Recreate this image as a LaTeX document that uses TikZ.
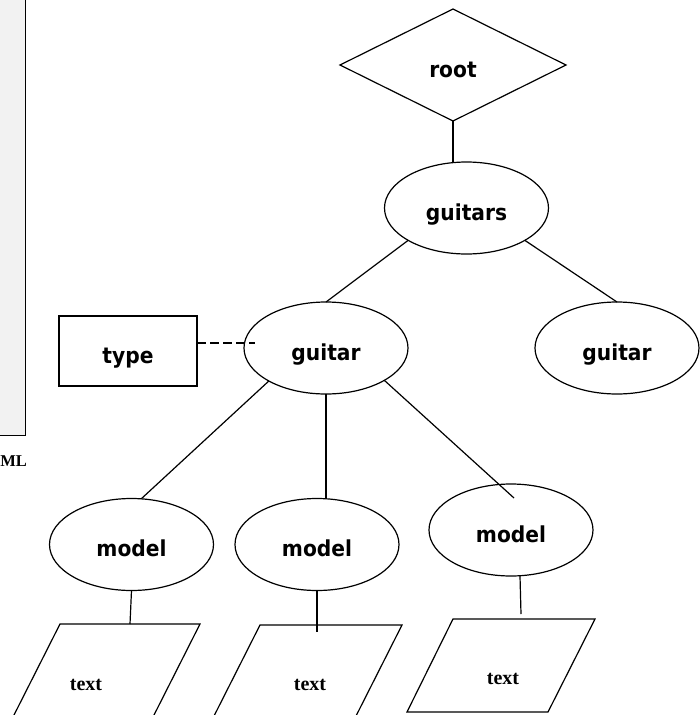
\documentclass[tikz,border=0pt]{standalone}
\usepackage{fontspec}
\usetikzlibrary{shapes.geometric,calc}
\newfontfamily\lblfont{DejaVu Sans}[FakeStretch=0.92]
\newfontfamily\txtfont{Liberation Serif}
\definecolor{panelgray}{HTML}{F2F2F2}

\begin{document}
\begin{tikzpicture}[x=1pt,y=-1pt,line width=1.2pt,
  lbl/.style={inner sep=0pt,outer sep=0pt,text height=24pt,text depth=0pt,
    font={\lblfont\bfseries\fontsize{22pt}{22pt}\selectfont}},
  ent/.style={lbl,ellipse,draw,minimum width=164pt,minimum height=92pt},
  diam/.style={lbl,diamond,draw,minimum width=226pt,minimum height=112pt},
  attr/.style={lbl,rectangle,draw,minimum width=138pt,minimum height=70pt},
  para/.style={line width=1.2pt,line join=miter},
  txt/.style={anchor=base,inner sep=0pt,
    font={\txtfont\bfseries\fontsize{20pt}{20pt}\selectfont}},
  link/.style={line width=1.2pt},
  dashlink/.style={line width=1.2pt,dash pattern=on 9pt off 4pt}]

\useasboundingbox (0,0) rectangle (700,715);
\clip (0,0) rectangle (700,715);

% side panel and its caption
\draw[fill=panelgray,line width=1pt] (-30,-30) rectangle (25,435);
\node[anchor=base east,inner sep=0pt,
  font={\txtfont\bfseries\fontsize{16.5pt}{16.5pt}\selectfont}] (cap) at (27.5,466) {ML};

% tree nodes
\node[diam] (root) at (453,65) {root};
\node[ent] (gs) at (466.5,208) {guitars};
\node[ent] (g1) at (326,348) {guitar};
\node[ent] (g2) at (617,348) {guitar};
\node[attr] (type) at (128,351) {type};
\node[ent] (m1) at (131.5,544.5) {model};
\node[ent] (m2) at (317,544.5) {model};
\node[ent] (m3) at (511,530) {model};

% text leaves
\draw[para] (60,624) -- (200,624) -- (153,717) -- (13,717) -- cycle;
\node[txt] (t1) at (86,690) {text};
\coordinate (p1top) at (130,624);

\draw[para] (260,625) -- (402,625) -- (355,718) -- (213,718) -- cycle;
\node[txt] (t2) at (310,690) {text};
\coordinate (p2top) at (317,632);

\draw[para] (453,619) -- (595,619) -- (548,712) -- (407,712) -- cycle;
\node[txt] (t3) at (503,684) {text};
\coordinate (p3top) at (521,614);

% connectors
\draw[link] (root.south) -- (root.south |- gs.north);
\draw[link] (gs.209) -- (g1.north);
\draw[link] (gs.331) -- (g2.north);
\draw[dashlink] ([yshift=8pt]type.east) -- ([xshift=10.5pt,yshift=5pt]g1.west);
\draw[link] (g1.210) -- (m1.78);
\draw[link] (g1.south) -- (g1.south |- m2.north);
\draw[link] (g1.331) -- ($(m3.center)+(3,-32)$);
\draw[link] (m1.south) -- (p1top);
\draw[link] (m2.south) -- (p2top);
\draw[link] ([xshift=9pt]m3.south) -- (p3top);
\end{tikzpicture}
\end{document}
